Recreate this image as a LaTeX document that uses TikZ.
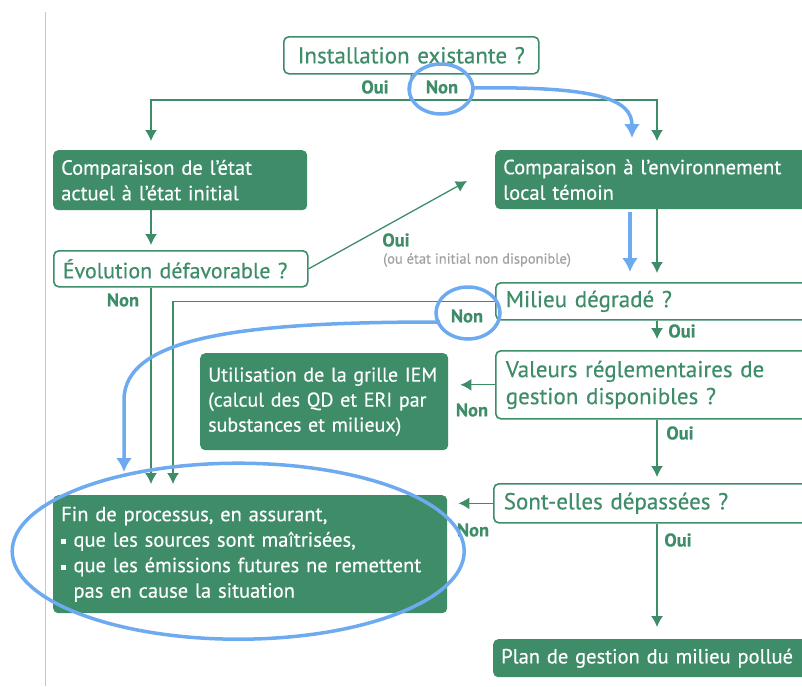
\documentclass[tikz,border=0pt]{standalone}
\usepackage{fontspec}
\setmainfont{PT Sans}[FakeBold=0.4]
\usetikzlibrary{arrows.meta}

\definecolor{iemgreen}{RGB}{62,140,104}
\definecolor{iemblue}{RGB}{110,170,240}
\definecolor{iemgray}{RGB}{160,160,160}
\newcommand{\puce}{\makebox[0.6em][l]{\rule[0.12em]{0.24em}{0.24em}}}

\begin{document}
\begin{tikzpicture}[x=1pt,y=-1pt,
    question/.style={draw=iemgreen, line width=1.6pt, rounded corners=5pt, fill=white,
        text=iemgreen, anchor=north west, inner xsep=10pt, inner ysep=0pt, align=left,
        font=\fontsize{23}{27}\selectfont},
    result/.style={fill=iemgreen, rounded corners=5pt, text=white, anchor=north west,
        inner xsep=8pt, inner ysep=0pt, align=left, font=\fontsize{20.5}{25.5}\selectfont},
    answer/.style={text=iemgreen, inner sep=0pt, font=\fontsize{18.5}{20}\selectfont\bfseries},
    link/.style={draw=iemgreen, line width=1.3pt},
    flow/.style={link, -{Latex[length=11pt,width=12pt]}},
    hilite/.style={draw=iemblue, line width=3.5pt},
    hiarrow/.style={hilite, -{Latex[length=14pt,width=16pt]}}
]
\useasboundingbox (0,0) rectangle (802,686);

\draw[iemgray!60, line width=0.8pt] (45,12) -- (45,686);

% boxes
\path (283,36) node[question, minimum width=255pt, minimum height=37pt, text width=235pt, align=center] (inst) {Installation existante ?};
\path (53,150) node[result, minimum width=254pt, minimum height=60pt, text width=238pt] (compinit) {Comparaison de l'état\\actuel à l'état initial};
\path (53,250) node[question, minimum width=254pt, minimum height=36pt, text width=236pt, inner xsep=9pt, font=\fontsize{22}{26}\selectfont] (evol) {\mbox{Évolution défavorable ?}};
\path (495,150) node[result, minimum width=320pt, minimum height=59pt, text width=304pt] (compenv) {Comparaison à l'environnement\\local témoin};
\path (495,282) node[question, minimum width=320pt, minimum height=37pt, text width=300pt] (milieu) {Milieu dégradé ?};
\path (495,350) node[question, minimum width=320pt, minimum height=68pt, text width=300pt] (valeurs) {Valeurs réglementaires de\\gestion disponibles ?};
\path (200,353) node[result, minimum width=248pt, minimum height=97pt, text width=232pt, font=\fontsize{20}{25}\selectfont] (util) {\mbox{Utilisation de la grille IEM}\\(calcul des QD et ERI par\\substances et milieux)};
\path (493,483) node[question, minimum width=322pt, minimum height=39pt, text width=302pt] (sont) {Sont-elles dépassées ?};
\path (53,495) node[result, minimum width=394pt, minimum height=118pt, text width=378pt] (fin) {Fin de processus, en assurant,\\\puce que les sources sont maîtrisées,\\\puce que les émissions futures ne remettent\\\phantom{\puce}pas en cause la situation};
\path (493,639) node[result, minimum width=322pt, minimum height=38pt, text width=306pt] (plan) {Plan de gestion du milieu pollué};

% labels
\path (375,87) node[answer] (ouiInst) {Oui};
\path (442,87) node[answer] (nonInst) {Non};
\path (396,240) node[answer] (ouiEvol) {Oui};
\path (383,260) node[anchor=west, inner sep=0pt, text=iemgray, font=\fontsize{14.5}{16}\selectfont] (dispo) {(ou état initial non disponible)};
\path (123,300) node[answer] (nonEvol) {Non};
\path (467,316) node[answer] (nonMilieu) {Non};
\path (682,331) node[answer] (ouiMilieu) {Oui};
\path (472,410) node[answer] (nonValeurs) {Non};
\path (680,433) node[answer] (ouiValeurs) {Oui};
\path (473,530) node[answer] (nonSont) {Non};
\path (678,540) node[answer] (ouiSont) {Oui};

% columns
\coordinate (fork) at (410,100);
\coordinate (colL) at (151,0);
\coordinate (colN) at (173,0);
\coordinate (colR) at (657,0);
\coordinate (colB) at (630,0);
\coordinate (ouiTip) at (467,181);

% green connectors
\draw[link] (inst.south) -- (fork);
\draw[flow, shorten >=9pt] (fork) -| (compinit.north -| colL);
\draw[flow, shorten >=9pt] (fork) -| (compenv.north -| colR);
\draw[flow, shorten >=5pt] (compinit.south -| colL) -- (evol.north -| colL);
\draw[flow] (evol.east) -- (ouiTip);
\draw[flow, shorten >=11pt] (evol.south -| colL) -- (fin.north -| colL);
\draw[flow, shorten >=11pt] (milieu.west) -- (milieu.west -| colN) -- (fin.north -| colN);
\draw[flow, shorten >=9pt] (compenv.south -| colR) -- (milieu.north -| colR);
\draw[flow, shorten >=11pt] (milieu.south -| colR) -- (valeurs.north -| colR);
\draw[flow, shorten >=12pt] (valeurs.west) -- (valeurs.west -| util.east);
\draw[flow, shorten >=6pt] (valeurs.south -| colR) -- (sont.north -| colR);
\draw[flow, shorten >=11pt] (sont.west) -- (sont.west -| fin.east);
\draw[flow, shorten >=12pt] (sont.south -| colR) -- (plan.north -| colR);

% blue highlights
\coordinate (blueStartA) at (473,88);
\coordinate (blueTipA) at (632,138);
\coordinate (blueStartB) at (440,322);
\coordinate (blueTipB) at (124,472);
\draw[hilite] ([xshift=-1pt,yshift=-2pt]nonInst.center) ellipse [x radius=32pt, y radius=25pt];
\draw[hiarrow] (blueStartA) .. controls (600,86) and (632,100) .. (blueTipA);
\draw[hiarrow, shorten <=3pt, shorten >=10pt] (compenv.south -| colB) -- (milieu.north -| colB);
\draw[hilite] ([xshift=1pt,yshift=3pt]nonMilieu.center) ellipse [x radius=32pt, y radius=26pt];
\draw[hiarrow] (blueStartB) .. controls (250,322) and (124,335) .. (124,400) -- (blueTipB);
\draw[hilite] ([xshift=-12pt,yshift=3pt]fin.center) ellipse [x radius=226pt, y radius=88pt];

\end{tikzpicture}
\end{document}
